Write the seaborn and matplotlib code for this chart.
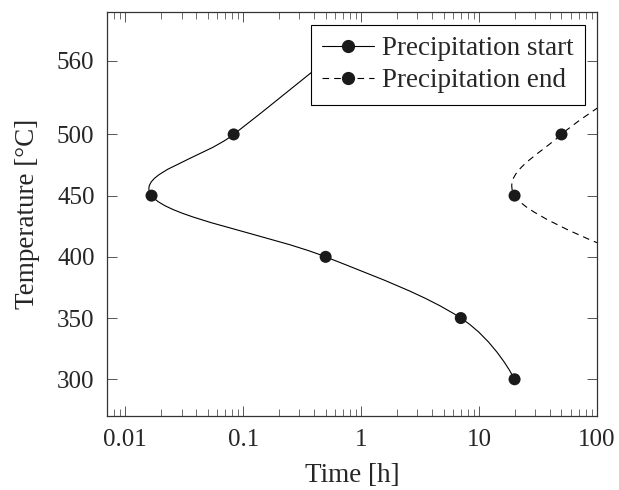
import numpy as np
import matplotlib
matplotlib.use("Agg")
import matplotlib.pyplot as plt
from matplotlib.path import Path
from matplotlib.patches import PathPatch
from matplotlib.lines import Line2D
from matplotlib.ticker import FixedLocator, FuncFormatter, LogLocator, NullFormatter
import seaborn as sns
import pandas as pd

# precipitation start (time in h, temperature in degC), ordered by temperature
start_time = [20, 7, 0.5, 0.0167, 0.083, 0.5]
start_temp = [300, 350, 400, 450, 500, 560]

# precipitation end; first and last points lie outside the plotted range
end_time = [200, 20, 50, 300]
end_temp = [400, 450, 500, 550]

y_ticks = [300, 350, 400, 450, 500, 560]
x_ticks = [0.01, 0.1, 1, 10, 100]

sns.set_style("ticks")
plt.rcParams["font.family"] = ["Liberation Serif", "DejaVu Serif"]

DASH = (0, (6, 4.5))


def smooth_path(xs, ys, tension=0.55):
    # tikz-like smooth curve: bezier control points computed in log-x space
    lx = np.log10(xs)
    y = np.asarray(ys, dtype=float)
    pts = np.column_stack([lx, y])
    n = len(pts)
    k = tension / 3.0
    verts = [pts[0]]
    codes = [Path.MOVETO]
    for i in range(n - 1):
        p0 = pts[i - 1] if i > 0 else pts[i]
        p1, p2 = pts[i], pts[i + 1]
        p3 = pts[i + 2] if i + 2 < n else pts[i + 1]
        c1 = p1 + k * (p2 - p0) if i > 0 else p1
        c2 = p2 - k * (p3 - p1) if i + 2 < n else p2
        verts += [c1, c2, p2]
        codes += [Path.CURVE4] * 3
    verts = np.array(verts)
    verts[:, 0] = 10 ** verts[:, 0]
    return Path(verts, codes)


fig = plt.figure(figsize=(6.19, 4.90), dpi=100)
ax = fig.add_axes([107 / 619, 74 / 490, 490 / 619, 404 / 490])
ax.set_xscale("log")
ax.set_xlim(0.007, 100)
ax.set_ylim(270, 600)

ax.add_patch(PathPatch(smooth_path(start_time, start_temp), fill=False,
                       edgecolor="black", lw=0.8, zorder=2))
ax.add_patch(PathPatch(smooth_path(end_time, end_temp), fill=False,
                       edgecolor="black", lw=0.8, ls=DASH, zorder=2))

df = pd.DataFrame({
    "time": start_time + end_time,
    "temp": start_temp + end_temp,
    "series": ["start"] * len(start_time) + ["end"] * len(end_time),
})
sns.scatterplot(data=df, x="time", y="temp", color="#1a1a1a", s=75,
                edgecolor="none", ax=ax, zorder=3, legend=False)

ax.yaxis.set_major_locator(FixedLocator(y_ticks))
ax.xaxis.set_major_locator(FixedLocator(x_ticks))
ax.xaxis.set_major_formatter(FuncFormatter(lambda v, p: f"{v:g}"))
ax.xaxis.set_minor_locator(LogLocator(base=10, subs=np.arange(2, 10), numticks=20))
ax.xaxis.set_minor_formatter(NullFormatter())

ax.tick_params(which="both", direction="in", top=True, right=True,
               color="#555555", labelsize=18, pad=9)
ax.tick_params(which="major", length=7.5, width=0.7)
ax.tick_params(which="minor", length=5, width=0.6)
for sp in ax.spines.values():
    sp.set_visible(True)
    sp.set_color("#333333")
    sp.set_linewidth(0.9)

ax.set_xlabel("Time [h]", fontsize=19.5, labelpad=9)
ax.set_ylabel("Temperature [°C]", fontsize=19.5, labelpad=12)

handles = [
    Line2D([], [], color="black", lw=0.8, marker="o", markersize=8.5,
           markerfacecolor="#1a1a1a", markeredgecolor="#1a1a1a"),
    Line2D([], [], color="black", lw=0.8, ls=DASH, marker="o",
           markersize=8.5, markerfacecolor="#1a1a1a", markeredgecolor="#1a1a1a"),
]
leg = ax.legend(handles, ["Precipitation start", "Precipitation end"],
                loc="upper right", bbox_to_anchor=(478 / 490, 391 / 404),
                borderaxespad=0, fontsize=19.5, frameon=True, fancybox=False,
                framealpha=1, edgecolor="black", handlelength=1.9,
                handletextpad=0.3, borderpad=0.42, labelspacing=0.25)
leg.get_frame().set_linewidth(0.8)
leg.set_zorder(5)

fig.savefig("out.png", dpi=100)
